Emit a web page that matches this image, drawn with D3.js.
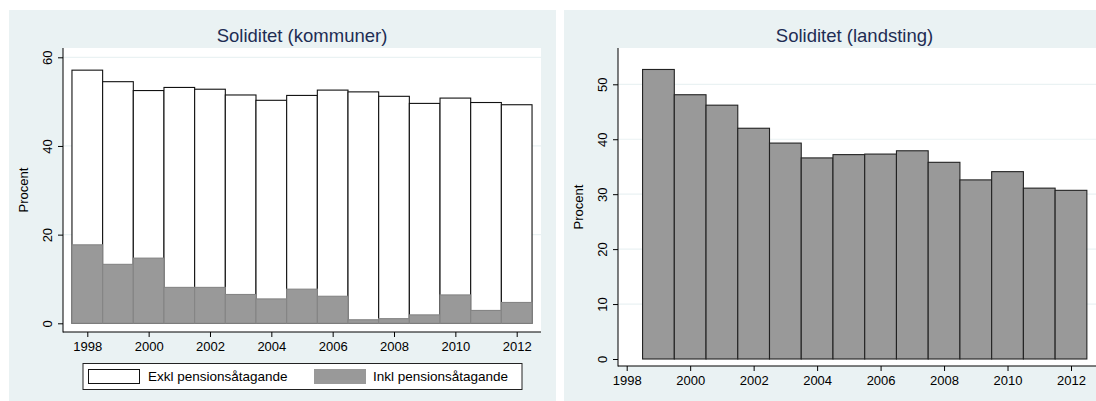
<!DOCTYPE html>
<meta charset="utf-8">
<style>

body {
  margin: 0;
  background: #fff;
}

text {
  font-family: "Liberation Sans", Arial, sans-serif;
  fill: #000;
}

.panel {
  fill: #eaf2f3;
}

.plot {
  fill: #fff;
}

.grid {
  stroke: #eaf2f3;
  stroke-width: 1.2px;
}

.title {
  font-size: 18.5px;
  fill: #1e2d53;
}

.axis text {
  font-size: 13px;
}

.axis line {
  stroke: #000;
}

.axisline {
  stroke: #000;
  stroke-width: 1px;
}

</style>
<body>
<script src="https://d3js.org/d3.v7.min.js"></script>
<script>

var width = 1096,
    height = 401;

// kommuner, 1998-2012
var yearsKommun = [1998, 1999, 2000, 2001, 2002, 2003, 2004, 2005, 2006, 2007, 2008, 2009, 2010, 2011, 2012];
var exklKommun = [57.1, 54.5, 52.5, 53.2, 52.8, 51.5, 50.3, 51.4, 52.6, 52.2, 51.2, 49.6, 50.8, 49.8, 49.3];
var inklKommun = [17.7, 13.3, 14.7, 8.1, 8.1, 6.5, 5.5, 7.7, 6.1, 0.8, 1.05, 1.9, 6.4, 2.9, 4.7];

// landsting, 1999-2012
var yearsLandsting = [1999, 2000, 2001, 2002, 2003, 2004, 2005, 2006, 2007, 2008, 2009, 2010, 2011, 2012];
var valuesLandsting = [52.7, 48.1, 46.2, 42.0, 39.3, 36.6, 37.2, 37.3, 37.9, 35.8, 32.6, 34.1, 31.1, 30.7];

var yearTicks = [1998, 2000, 2002, 2004, 2006, 2008, 2010, 2012];
var yTicksKommun = [0, 20, 40, 60];
var yTicksLandsting = [0, 10, 20, 30, 40, 50];

var legendLabels = ["Exkl pensionsåtagande", "Inkl pensionsåtagande"];

var svg = d3.select("body").append("svg")
    .attr("width", width)
    .attr("height", height);

// panel backgrounds
svg.append("rect").attr("class", "panel")
    .attr("x", 9).attr("y", 10).attr("width", 547).attr("height", 391);
svg.append("rect").attr("class", "panel")
    .attr("x", 564).attr("y", 10).attr("width", 540).attr("height", 391);

function drawPanel(o) {
  var g = svg.append("g");

  var x = d3.scaleLinear().domain([1998, 2012]).range(o.xr);
  var y = d3.scaleLinear().domain([0, o.ymax]).range(o.yr);

  // plot region
  g.append("rect").attr("class", "plot")
      .attr("x", o.left).attr("y", o.top)
      .attr("width", o.right - o.left).attr("height", o.bottom - o.top);

  // gridlines
  g.selectAll(".grid")
    .data(o.yticks.filter(function(d) { return d > 0; }))
    .enter().append("line")
      .attr("class", "grid")
      .attr("x1", o.left).attr("x2", o.right)
      .attr("y1", function(d) { return y(d); })
      .attr("y2", function(d) { return y(d); });

  o.series.forEach(function(s) {
    g.selectAll(null)
      .data(s.values.map(function(v, i) { return {year: o.years[i], value: v}; }))
      .enter().append("rect")
        .attr("x", function(d) { return x(d.year - 0.5); })
        .attr("width", function(d) { return x(d.year + 0.5) - x(d.year - 0.5); })
        .attr("y", function(d) { return y(d.value); })
        .attr("height", function(d) { return y(0) - y(d.value); })
        .attr("fill", s.fill)
        .attr("stroke", s.stroke)
        .attr("stroke-width", 1.1);
  });

  // axes
  var ya = g.append("g").attr("class", "axis")
      .attr("transform", "translate(" + o.left + ",0)")
      .call(d3.axisLeft(y).tickValues(o.yticks).tickSize(5).tickSizeOuter(0));
  ya.select(".domain").remove();
  // rotated tick labels, like Stata
  ya.selectAll(".tick text")
      .attr("transform", "rotate(-90,-16,0)")
      .attr("x", -16).attr("y", 0).attr("dy", "0.35em")
      .attr("text-anchor", "middle");

  var xa = g.append("g").attr("class", "axis")
      .attr("transform", "translate(0," + o.bottom + ")")
      .call(d3.axisBottom(x).tickValues(yearTicks).tickFormat(d3.format("d")).tickSize(5).tickSizeOuter(0));
  xa.select(".domain").remove();
  xa.selectAll("text").attr("y", 10).attr("dy", "0.71em");

  g.append("line").attr("class", "axisline")
      .attr("x1", o.left).attr("x2", o.left).attr("y1", o.top).attr("y2", o.bottom + 0.5);
  g.append("line").attr("class", "axisline")
      .attr("x1", o.left).attr("x2", o.right).attr("y1", o.bottom).attr("y2", o.bottom);

  g.append("text")
      .attr("transform", "translate(" + o.ylabX + "," + ((o.top + o.bottom) / 2) + ") rotate(-90)")
      .attr("text-anchor", "middle")
      .attr("dy", "0.35em")
      .style("font-size", "13px")
      .text("Procent");

  g.append("text").attr("class", "title")
      .attr("x", o.titleX).attr("y", 42)
      .attr("text-anchor", "middle")
      .text(o.title);
}

drawPanel({
  title: "Soliditet (kommuner)", titleX: 302,
  left: 63, right: 541, top: 48, bottom: 332,
  xr: [87.3, 516.7], yr: [323.3, 57.3], ymax: 60,
  yticks: yTicksKommun, ylabX: 23,
  years: yearsKommun,
  series: [
    {values: exklKommun, fill: "#fff", stroke: "#111"},
    {values: inklKommun, fill: "#999999", stroke: "#858585"}
  ]
});

drawPanel({
  title: "Soliditet (landsting)", titleX: 854.5,
  left: 618, right: 1100, top: 48, bottom: 366,
  xr: [626.7, 1071], yr: [359, 84.3], ymax: 50,
  yticks: yTicksLandsting, ylabX: 578,
  years: yearsLandsting,
  series: [
    {values: valuesLandsting, fill: "#999999", stroke: "#222"}
  ]
});

// legend
var leg = svg.append("g");
leg.append("rect")
    .attr("x", 83).attr("y", 363.5).attr("width", 439).attr("height", 26)
    .attr("fill", "#fff").attr("stroke", "#222").attr("stroke-width", 1);
leg.append("rect")
    .attr("x", 88.5).attr("y", 369.5).attr("width", 51).attr("height", 14)
    .attr("fill", "#fff").attr("stroke", "#111").attr("stroke-width", 1);
leg.append("rect")
    .attr("x", 314).attr("y", 369).attr("width", 52).attr("height", 15)
    .attr("fill", "#999999");
leg.selectAll(".lt")
  .data(legendLabels)
  .enter().append("text")
    .attr("x", function(d, i) { return i === 0 ? 148 : 373; })
    .attr("y", 376.5)
    .attr("dy", "0.35em")
    .style("font-size", "13.5px")
    .text(function(d) { return d; });

</script>
